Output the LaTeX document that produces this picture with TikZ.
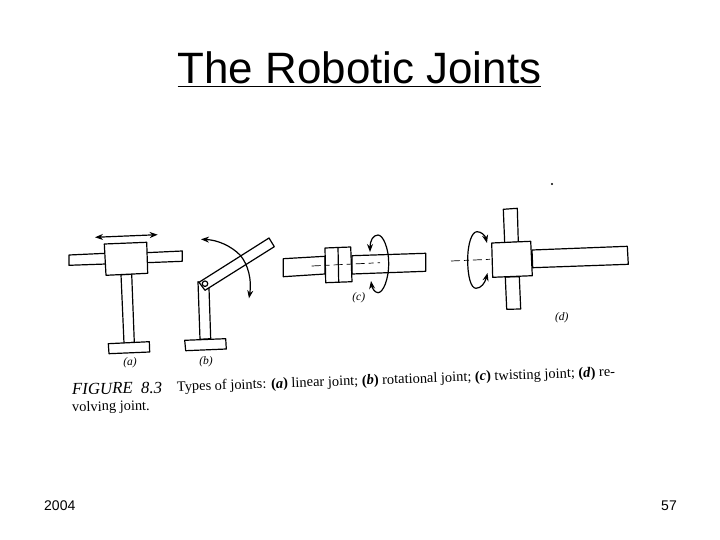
\documentclass[tikz,border=0pt]{standalone}
\usepackage{fontspec}
\setmainfont{Liberation Serif}
\newfontfamily\arialf{Liberation Sans}
\usetikzlibrary{arrows.meta}
\begin{document}
\begin{tikzpicture}[x=1pt,y=-1pt,
  part/.style={draw=black,fill=white,line width=1.2pt,line join=round},
  rod/.style={draw=black,line width=1.2pt},
  motion/.style={draw=black,line width=1.2pt,-{Stealth[length=8pt,width=6pt]}},
  axisline/.style={draw=black,line width=0.7pt,dash pattern=on 9pt off 4pt on 5pt off 4pt},
  tag/.style={font=\fontsize{11.5}{13}\selectfont\itshape,inner sep=0pt},
  captiontext/.style={font=\fontsize{14.4}{16}\selectfont,inner sep=0pt,anchor=base west}]
\useasboundingbox (0,0) rectangle (720,540);
\fill[white] (0,0) rectangle (720,540);
% title
\node[font=\arialf\fontsize{43.9}{50}\selectfont,inner sep=0pt,anchor=base] (title) at (359.5,84) {\underline{The Robotic Joints}};
% (a)
\draw[part] (69,255) -- (106,253.3) -- (106,264) -- (69,265.3) -- cycle;
\draw[part] (146,252.7) -- (182.3,251) -- (182.3,261.3) -- (146,262.7) -- cycle;
\draw[part] (121,274.7) -- (124,343.3) -- (134.3,342.3) -- (131.7,274.3) -- cycle;
\draw[part] (104.3,244) -- (146.7,242.3) -- (147.7,273.3) -- (106,275.3) -- cycle;
\draw[part] (108.3,343.7) -- (149.3,341.7) -- (149.7,352) -- (109,353.7) -- cycle;
\draw[line width=1.2pt,{Stealth[length=8pt,width=6pt]}-{Stealth[length=8pt,width=6pt]}] (95,237.3) -- (157.7,234.7);
\node[tag] (la) at (130,363) {(a)};
% (b)
\draw[part] (198,281.7) -- (200,339.3) -- (210.7,338.7) -- (209,288.3) -- cycle;
\draw[part] (184.7,340.3) -- (225.7,338.7) -- (226.3,349) -- (185.7,350.7) -- cycle;
\draw[part] (199,282.3) -- (269,238) -- (274.3,246.7) -- (205,290.3) -- cycle;
\node[part,circle,minimum size=5.5pt,inner sep=0pt] (pin) at (205,283.7) {};
\draw[motion] (240,255) .. controls (231,246) and (218,240) .. (201,239.3);
\draw[motion] (240,255) .. controls (248,264) and (252,280) .. (249,298.3);
\node[tag] (lb) at (206,362) {(b)};
% (c)
\draw[part] (283.3,258.7) -- (325,256.3) -- (325,274) -- (283.3,276.7) -- cycle;
\draw[part] (352,255.7) -- (425.7,253.3) -- (425.7,271.3) -- (352,274) -- cycle;
\draw[part] (325,248) -- (350.7,247) -- (352,281.7) -- (325.7,282.7) -- cycle;
\draw[rod] (338,247.3) -- (338.7,282);
\draw[axisline] (311.7,266) -- (380,262.7);
\draw[motion] (388.7,263) .. controls (388.7,248) and (383,235) .. (378,235) .. controls (373,235) and (370,241) .. (370,252);
\draw[motion] (388.7,263) .. controls (388.7,280) and (383,292.7) .. (378,292.7) .. controls (375,292.7) and (372,288) .. (371,281);
\node[tag] (lc) at (358.7,297.5) {(c)};
% (d)
\draw[part] (503.3,209.3) -- (517.3,208.3) -- (518.3,242) -- (504.7,243) -- cycle;
\draw[part] (505.3,277) -- (506.7,309.3) -- (520.7,309) -- (519.3,276.7) -- cycle;
\draw[part] (532,250) -- (627.3,246.3) -- (628.3,264.3) -- (532.7,267.7) -- cycle;
\draw[part] (491.7,243) -- (530.7,241.3) -- (532.3,275.7) -- (492.7,277.3) -- cycle;
\draw[axisline] (451,261) -- (490,259.3);
\draw[motion] (467.7,260) .. controls (467.7,243) and (472,231.7) .. (477,231.7) .. controls (481,231.7) and (485,235) .. (487,243);
\draw[motion] (467.7,260) .. controls (467.7,277) and (471,288.3) .. (476,288.3) .. controls (481,288.3) and (485,283) .. (487.5,273);
\node[tag] (ld) at (561.7,317.5) {(d)};
% caption
\node[captiontext,font=\fontsize{16.8}{18}\selectfont\itshape,rotate=1] (figlabel) at (72,394.5) {FIGURE\ \ 8.3};
\node[captiontext,rotate=2] (captext) at (177,391.5) {Types of joints: \textbf{(\textit{a})} linear joint; \textbf{(\textit{b})} rotational joint; \textbf{(\textit{c})} twisting joint; \textbf{(\textit{d})} re-};
\node[captiontext,rotate=1] (captwo) at (72,411.5) {volving joint.};
% specks
\fill (552,184) circle (1.1pt);
% footer
\node[font=\arialf\fontsize{14}{16}\selectfont,inner sep=0pt,anchor=base west] (year) at (44,510) {2004};
\node[font=\arialf\fontsize{14}{16}\selectfont,inner sep=0pt,anchor=base east] (page) at (677,510) {57};
\end{tikzpicture}
\end{document}
